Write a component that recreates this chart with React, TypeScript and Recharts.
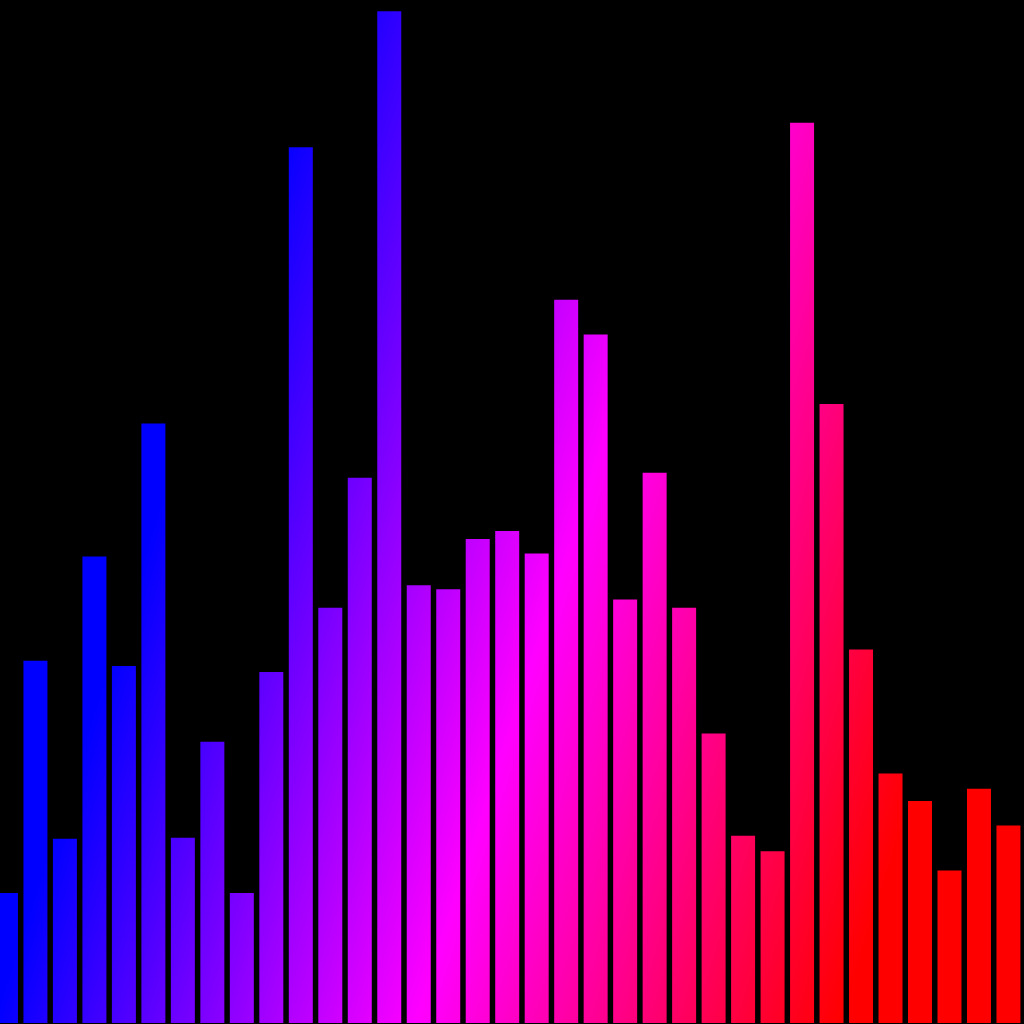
import React from 'react';
import { BarChart, Bar, XAxis, YAxis } from 'recharts';

// one bar per bin, left to right
const BINS = [
  'b01', 'b02', 'b03', 'b04', 'b05', 'b06', 'b07', 'b08', 'b09', 'b10',
  'b11', 'b12', 'b13', 'b14', 'b15', 'b16', 'b17', 'b18', 'b19', 'b20',
  'b21', 'b22', 'b23', 'b24', 'b25', 'b26', 'b27', 'b28', 'b29', 'b30',
  'b31', 'b32', 'b33', 'b34', 'b35',
];

const LEVELS = [
  12.7, 35.4, 18.0, 45.6, 34.9, 58.6, 18.1, 27.5, 12.7, 34.3,
  85.6, 40.6, 53.3, 98.9, 42.8, 42.4, 47.3, 48.1, 45.9, 70.7,
  67.3, 41.4, 53.8, 40.6, 28.3, 18.3, 16.8, 88.0, 60.5, 36.5,
  24.4, 21.7, 14.9, 22.9, 19.3,
];

const data = BINS.map((bin, i) => ({ bin, level: LEVELS[i] }));

const App: React.FC = () => {
  return (
    <div style={{ position: 'fixed', inset: 0, background: '#000', overflow: 'hidden' }}>
      <div style={{ position: 'absolute', left: -9, top: 0 }}>
        <BarChart
          width={1032}
          height={1024}
          data={data}
          margin={{ top: 0, right: 0, bottom: 1, left: 0 }}
          barCategoryGap="10%"
        >
          <defs>
            <linearGradient id="spectrum" gradientUnits="userSpaceOnUse" x1={302} y1={94} x2={1070} y2={342}>
              <stop offset="0%" stopColor="#0000ff" />
              <stop offset="50%" stopColor="#ff00ff" />
              <stop offset="100%" stopColor="#ff0000" />
            </linearGradient>
          </defs>
          <XAxis dataKey="bin" hide />
          <YAxis domain={[0, 100]} hide />
          <Bar dataKey="level" fill="url(#spectrum)" isAnimationActive={false} />
        </BarChart>
      </div>
    </div>
  );
};

export default App;
